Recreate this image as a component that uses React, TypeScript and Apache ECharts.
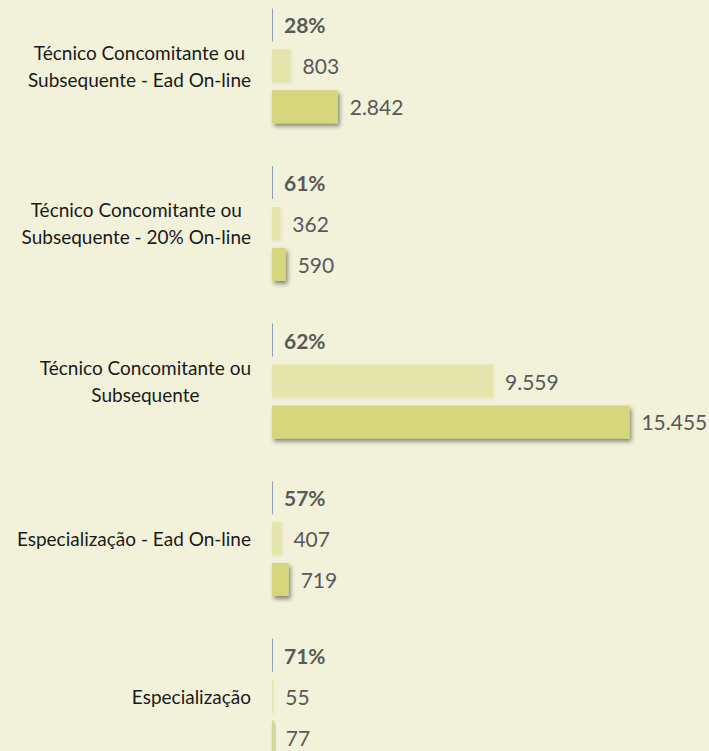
import React, { useEffect, useRef } from "react";
import * as echarts from "echarts";

const categories = [
  "Técnico Concomitante ou\nSubsequente - Ead On-line",
  "Técnico Concomitante ou\nSubsequente - 20% On-line",
  "Técnico Concomitante ou\nSubsequente",
  "Especialização - Ead On-line",
  "Especialização",
];
const percentValues = [28, 61, 62, 57, 71];
const lightValues = [803, 362, 9559, 407, 55];
const darkValues = [2842, 590, 15455, 719, 77];

const fmt = (v: number) => String(v).replace(/\B(?=(\d{3})+(?!\d))/g, ".");

export default function App() {
  const ref = useRef<HTMLDivElement>(null);
  useEffect(() => {
    document.body.style.margin = "0";
    const chart = echarts.init(ref.current!, null, { renderer: "svg" });
    const valueLabel = {
      show: true,
      position: "right",
      distance: 12,
      color: "#595959",
      fontFamily: "Lato",
      fontSize: 21,
      formatter: (p: any) => fmt(p.value),
    };
    chart.setOption({
      animation: false,
      backgroundColor: "#F2F2DA",
      grid: { left: 272, right: 67, top: 0, bottom: 0, containLabel: false },
      xAxis: [
        { type: "value", min: 0, max: 16000, show: false },
        { type: "value", min: 0, max: 100000, show: false },
      ],
      yAxis: {
        type: "category",
        inverse: true,
        data: categories,
        axisLine: { show: false },
        axisTick: { show: false },
        splitLine: { show: false },
        axisLabel: {
          margin: 21,
          color: "#1A1A1A",
          fontFamily: "Lato",
          fontSize: 19,
          lineHeight: 27,
          formatter: (v: string) =>
            v
              .split("\n")
              .map((l) => `{c|${l}}`)
              .join("\n"),
          rich: {
            c: {
              align: "center",
              color: "#1A1A1A",
              fontFamily: "Lato",
              fontSize: 19,
              lineHeight: 27,
            },
          },
        },
      },
      series: [
        {
          type: "bar",
          name: "pct",
          xAxisIndex: 1,
          data: percentValues,
          barWidth: 33,
          barGap: "24%",
          barMinHeight: 1,
          itemStyle: { color: "#8FA1B8" },
          label: {
            show: true,
            position: "right",
            distance: 11,
            color: "#595959",
            fontFamily: "Lato",
            fontWeight: "bold",
            fontSize: 21,
            formatter: (p: any) => `${p.value}%`,
          },
        },
        {
          type: "bar",
          name: "light",
          data: lightValues,
          barWidth: 33,
          barGap: "24%",
          itemStyle: {
            color: "#E4E5AB",
            shadowColor: "rgba(0,0,0,0.08)",
            shadowBlur: 3,
            shadowOffsetX: 1,
            shadowOffsetY: 1,
          },
          label: valueLabel,
        },
        {
          type: "bar",
          name: "dark",
          data: darkValues,
          barWidth: 33,
          barGap: "24%",
          itemStyle: {
            color: "#D6D77B",
            shadowColor: "rgba(0,0,0,0.45)",
            shadowBlur: 4,
            shadowOffsetX: 2,
            shadowOffsetY: 3,
          },
          label: valueLabel,
        },
      ],
    });
    return () => chart.dispose();
  }, []);
  return (
    <div style={{ width: 709, height: 751, overflow: "hidden", position: "relative", background: "#F2F2DA" }}>
      <div ref={ref} style={{ position: "absolute", left: 0, top: -13, width: 709, height: 788 }} />
    </div>
  );
}
